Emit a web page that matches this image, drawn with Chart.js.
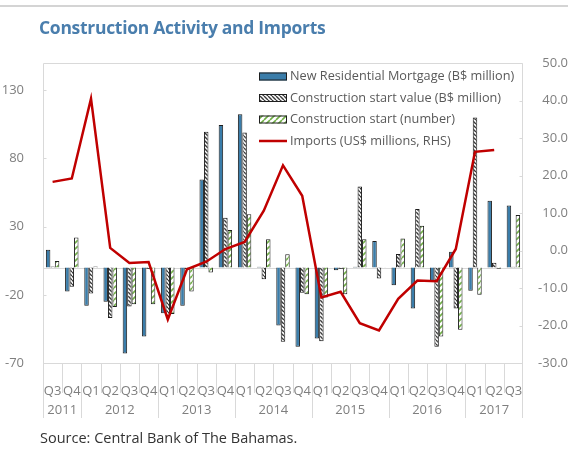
<!DOCTYPE html>
<html><head><meta charset="utf-8">
<script src="https://cdn.jsdelivr.net/npm/chart.js@4.4.1/dist/chart.umd.min.js"></script>
<style>
html,body{margin:0;padding:0;background:#fff;}
#wrap{position:relative;width:568px;height:450px;overflow:hidden;}
#topline{position:absolute;left:0;top:5px;width:568px;height:2px;background:#d4d4d4;}
#title{position:absolute;left:39px;top:15px;font:bold 17.5px 'Open Sans';color:#4A7EAD;white-space:nowrap;letter-spacing:-0.3px;}
#source{position:absolute;left:40px;top:428px;font:14.5px 'Open Sans';color:#333;white-space:nowrap;}
canvas{position:absolute;left:0;top:0;}
</style></head><body>
<div id="wrap"><canvas id="c" width="568" height="450"></canvas>
<div id="topline"></div>
<div id="title">Construction Activity and Imports</div>
<div id="source">Source: Central Bank of The Bahamas.</div></div>
<script>
const quarters = ['Q3','Q4','Q1','Q2','Q3','Q4','Q1','Q2','Q3','Q4','Q1','Q2','Q3','Q4','Q1','Q2','Q3','Q4','Q1','Q2','Q3','Q4','Q1','Q2','Q3'];
const years = ['2011','2011','2012','2012','2012','2012','2013','2013','2013','2013','2014','2014','2014','2014','2015','2015','2015','2015','2016','2016','2016','2016','2017','2017','2017'];
const mortgage = [13, -17.5, -28, -25, -63, -50.5, -33.5, -28, 64.5, 104.5, 112.5, 0.5, -42.5, -58, -52, -2, 0.5, 19.5, -13, -30, -10, 11.5, -17, 49, 45.5];
const startValue = [0.8, -14, -19, -37, -28.5, -1, -35.5, -1, 99.5, 36.5, 99, -8.5, -54.5, -18.5, -54, -1, 59.5, -8, 10, 43, -58, -30, 110, 3.5, 0.5];
const startNumber = [4.8, 22, 0.7, -29, -27, -27, -34, -17.5, -3.7, 27.5, 39, 20.8, 9.8, -19.5, -22, -19.5, 20.8, 0.3, 21.3, 30.6, -50.6, -45.7, -20, -0.8, 38.6];
const imports = [18.3, 19.2, 40.5, 0.7, -3.3, -3.1, -18.4, -5, -3, 0.4, 2.3, 10.6, 22.7, 14.6, -12.5, -11, -19.4, -21.3, -12.9, -8, -8.2, 0.4, 26.3, 26.8, null];
const leftTicks = [-70, -20, 30, 80, 130];
const seriesNames = ['New Residential Mortgage (B$ million)','Construction start value (B$ million)','Construction start (number)','Imports (US$ millions, RHS)'];

const canvas = document.getElementById('c');
const ctx = canvas.getContext('2d');
function hatch(bg, fg, size, lw, dir){
  const c = document.createElement('canvas'); c.width = c.height = size;
  const g = c.getContext('2d');
  g.fillStyle = bg; g.fillRect(0,0,size,size);
  g.strokeStyle = fg; g.lineWidth = lw; g.beginPath();
  for (const k of [-size, 0, size]) {
    if (dir > 0) { g.moveTo(k, size); g.lineTo(k+size, 0); }
    else { g.moveTo(k, 0); g.lineTo(k+size, size); }
  }
  g.stroke();
  return ctx.createPattern(c, 'repeat');
}
const greyPat = hatch('#ffffff', '#3a3a3a', 4, 1.4, -1);
const greenPat = hatch('#ffffff', '#6fae45', 6, 1.6, 1);
const GRID = '#d9d9d9', LBL = '#7f7f7f', FONT = "'Open Sans'";

const overlay = {
  id: 'overlay',
  beforeDatasetsDraw(chart){
    const {ctx, chartArea:a, scales} = chart;
    const y0 = Math.round(scales.y.getPixelForValue(0)) + 0.5;
    ctx.save(); ctx.strokeStyle = GRID; ctx.lineWidth = 1;
    ctx.beginPath(); ctx.moveTo(a.left, y0); ctx.lineTo(a.right, y0); ctx.stroke();
    ctx.restore();
  },
  afterDraw(chart){
    const {ctx, chartArea:a, scales} = chart;
    const xs = scales.x;
    ctx.save();
    ctx.strokeStyle = GRID; ctx.lineWidth = 1;
    const L = Math.round(a.left)+0.5, R = Math.round(a.right)-0.5, T = Math.round(a.top)+0.5, B = Math.round(a.bottom)+0.5;
    ctx.beginPath();
    ctx.moveTo(L, T); ctx.lineTo(R, T);
    ctx.moveTo(L, T); ctx.lineTo(L, 418);
    ctx.moveTo(R, T); ctx.lineTo(R, 418);
    ctx.moveTo(L, B); ctx.lineTo(R, B);
    const w = xs.getPixelForValue(1) - xs.getPixelForValue(0);
    for (let i = 1; i < quarters.length; i++) {
      const bx = Math.round(xs.getPixelForValue(i) - w/2) + 0.5;
      const yearBreak = years[i] !== years[i-1];
      ctx.moveTo(bx, B); ctx.lineTo(bx, yearBreak ? 418 : 393);
    }
    for (const t of leftTicks) { const y = Math.round(scales.y.getPixelForValue(t))+0.5; ctx.moveTo(L, y); ctx.lineTo(L+3, y); }
    for (const t of scales.y1.ticks) { const y = Math.round(scales.y1.getPixelForValue(t.value))+0.5; ctx.moveTo(R-3, y); ctx.lineTo(R, y); }
    ctx.stroke();
    // year labels
    ctx.fillStyle = LBL; ctx.font = '13px ' + FONT; ctx.textAlign = 'center'; ctx.textBaseline = 'middle';
    let s = 0;
    for (let i = 1; i <= years.length; i++) {
      if (i === years.length || years[i] !== years[s]) {
        const cx = (xs.getPixelForValue(s) + xs.getPixelForValue(i-1)) / 2;
        ctx.fillText(years[s], cx, 410);
        s = i;
      }
    }
    // legend
    const lx = 259, rows = [76.5, 98, 119.5, 141];
    ctx.textAlign = 'left'; ctx.font = '12.7px ' + FONT;
    chart.data.datasets.forEach((ds, i) => {
      const y = rows[i];
      if (ds.type === 'line') {
        ctx.strokeStyle = ds.borderColor; ctx.lineWidth = 2.5;
        ctx.beginPath(); ctx.moveTo(lx, y); ctx.lineTo(lx+28, y); ctx.stroke();
      } else {
        ctx.fillStyle = ds.backgroundColor; ctx.fillRect(lx, y-4, 28, 8);
        ctx.strokeStyle = ds.borderColor; ctx.lineWidth = 1;
        ctx.strokeRect(lx+0.5, y-3.5, 27, 7);
      }
      ctx.fillStyle = '#595959';
      ctx.fillText(ds.label, lx+31, y);
    });
    ctx.restore();
  }
};

new Chart(ctx, {
  type: 'bar',
  data: {
    labels: quarters,
    datasets: [
      {label: seriesNames[0], data: mortgage, backgroundColor: '#3A7DAA', borderColor: '#1e1e1e', borderWidth: 1, yAxisID: 'y', order: 1, barPercentage: 1, categoryPercentage: 0.7},
      {label: seriesNames[1], data: startValue, backgroundColor: greyPat, borderColor: '#1e1e1e', borderWidth: 1, yAxisID: 'y', order: 1, barPercentage: 1, categoryPercentage: 0.7},
      {label: seriesNames[2], data: startNumber, backgroundColor: greenPat, borderColor: '#1e1e1e', borderWidth: 1, yAxisID: 'y', order: 1, barPercentage: 1, categoryPercentage: 0.7},
      {type: 'line', label: seriesNames[3], data: imports, borderColor: '#C00000', backgroundColor: '#C00000', borderWidth: 2.5, pointRadius: 0, yAxisID: 'y1', order: 0, tension: 0, spanGaps: false}
    ]
  },
  options: {
    responsive: false, animation: false, devicePixelRatio: 1,
    layout: {padding: {top: 63, left: 0, right: 0, bottom: 0}},
    plugins: {legend: {display: false}, tooltip: {enabled: false}, title: {display: false}},
    scales: {
      x: {
        grid: {display: false}, border: {display: false},
        ticks: {color: LBL, font: {family: FONT, size: 13}, padding: 12, maxRotation: 0, autoSkip: false},
        afterFit(s){ s.height = 87; }
      },
      y: {
        position: 'left', min: -70, max: 150,
        grid: {display: false}, border: {display: false},
        ticks: {color: LBL, font: {family: FONT, size: 13}, padding: 11},
        afterBuildTicks(s){ s.ticks = leftTicks.map(v => ({value: v})); },
        afterFit(s){ s.width = 43; }
      },
      y1: {
        position: 'right', min: -30, max: 50,
        grid: {display: false}, border: {display: false},
        ticks: {color: LBL, font: {family: FONT, size: 13}, padding: 8, crossAlign: 'far', stepSize: 10, callback: v => v.toFixed(1)},
        afterFit(s){ s.width = 45; }
      }
    }
  },
  plugins: [overlay]
});
</script>
</body></html>
